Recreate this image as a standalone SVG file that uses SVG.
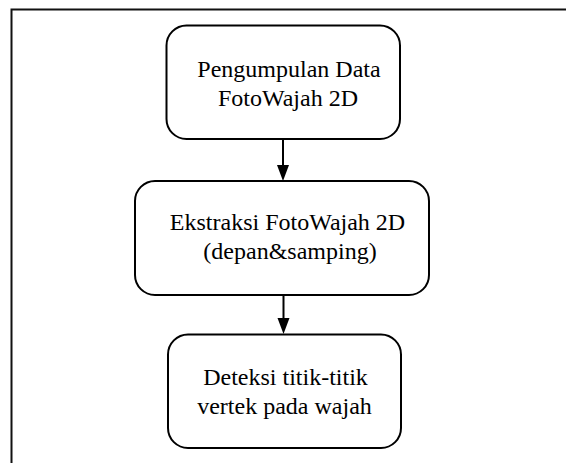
<svg xmlns="http://www.w3.org/2000/svg" width="566" height="463" viewBox="0 0 566 463">
<style>
.box{fill:#fff;stroke:#000;stroke-width:2}
.t{font-family:"Liberation Serif","Times New Roman",serif;font-size:24px;fill:#000;text-anchor:middle}
.c{stroke:#000;stroke-width:2;fill:none}
</style>
<defs>
<marker id="ah" markerWidth="12" markerHeight="16" refX="11" refY="6" orient="auto" markerUnits="userSpaceOnUse" viewBox="0 0 12 16">
<path d="M0,0 L11,6 L0,12 Z" fill="#000" transform="translate(0,0)"/>
</marker>
</defs>
<rect width="566" height="463" fill="#fff"/>
<path d="M11.5,463 V9.5 H566" fill="none" stroke="#111" stroke-width="2"/>
<g id="connectors">
<line class="c" x1="283" y1="139" x2="283" y2="166"/>
<path d="M277,165 L289,165 L283,181 Z"/>
<line class="c" x1="283.5" y1="295" x2="283.5" y2="319"/>
<path d="M277.5,318 L289.5,318 L283.5,334 Z"/>
</g>
<g id="node1">
<rect class="box" x="166.5" y="25.5" width="233.5" height="113.5" rx="20"/>
<text class="t" x="289" y="77">Pengumpulan Data</text>
<text class="t" x="288" y="106">FotoWajah 2D</text>
</g>
<g id="node2">
<rect class="box" x="135" y="181" width="294" height="114" rx="20"/>
<text class="t" x="287.5" y="230">Ekstraksi FotoWajah 2D</text>
<text class="t" x="290" y="259">(depan&amp;samping)</text>
</g>
<g id="node3">
<rect class="box" x="168" y="334.5" width="233" height="113.5" rx="20"/>
<text class="t" x="285.5" y="385">Deteksi titik-titik</text>
<text class="t" x="284.5" y="414">vertek pada wajah</text>
</g>
</svg>
